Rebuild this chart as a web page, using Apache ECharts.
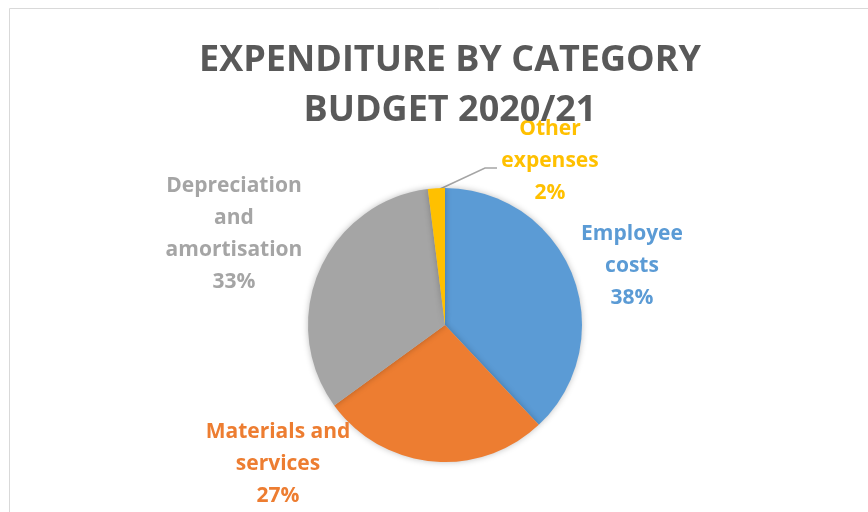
<!DOCTYPE html>
<html>
<head>
<meta charset="utf-8">
<script src="https://cdn.jsdelivr.net/npm/echarts@6/dist/echarts.min.js"></script>
<style>
  html, body { margin: 0; padding: 0; background: #fff; }
  #chart { width: 868px; height: 512px; }
</style>
</head>
<body>
<div id="chart"></div>
<script>
// data
const categories = ['Employee\ncosts', 'Materials and\nservices', 'Depreciation\nand\namortisation', 'Other\nexpenses']
const shares = [38, 27, 33, 2]
const colors = ['#5B9BD5', '#ED7D31', '#A5A5A5', '#FFC000']

// where each label block sits (centre of text)
const labelSpots = [[632, 266], [278, 464], [234, 234], [550, 161]]

const chart = echarts.init(document.getElementById('chart'))

const option = {
  backgroundColor: '#fff',
  animation: false,
  title: {
    text: 'EXPENDITURE BY CATEGORY\nBUDGET 2020/21',
    left: 445,
    textAlign: 'center',
    top: 31,
    textStyle: {
      fontFamily: 'Open Sans',
      fontWeight: 'bold',
      fontSize: 36,
      lineHeight: 50,
      color: '#595959'
    }
  },
  graphic: [
    {
      type: 'rect',
      shape: { x: 9.5, y: 8.5, width: 900, height: 600 },
      style: { fill: 'none', stroke: '#d9d9d9', lineWidth: 1 },
      silent: true
    }
  ],
  series: [
    {
      type: 'pie',
      center: [445, 325],
      radius: 137,
      startAngle: 90,
      clockwise: true,
      itemStyle: {
        shadowBlur: 6,
        shadowColor: 'rgba(0,0,0,0.25)'
      },
      label: {
        show: true,
        position: 'outside',
        formatter: (p) => p.name + '\n' + p.value + '%',
        fontFamily: 'Open Sans',
        fontWeight: 'bold',
        fontSize: 21,
        lineHeight: 32,
        align: 'center'
      },
      labelLine: { show: false },
      labelLayout: (params) => {
        const spot = labelSpots[params.dataIndex]
        const out = {
          x: spot[0],
          y: spot[1],
          align: 'center',
          verticalAlign: 'middle'
        }
        if (params.dataIndex === 3) {
          out.labelLinePoints = [[440, 189], [485, 168], [497, 168]]
        }
        return out
      },
      data: categories.map((name, i) => ({
        name: name,
        value: shares[i],
        itemStyle: { color: colors[i] },
        label: { color: colors[i] },
        labelLine: i === 3
          ? { show: true, lineStyle: { color: '#A5A5A5', width: 1.5 } }
          : { show: false }
      }))
    }
  ]
}

chart.setOption(option)
</script>
</body>
</html>
